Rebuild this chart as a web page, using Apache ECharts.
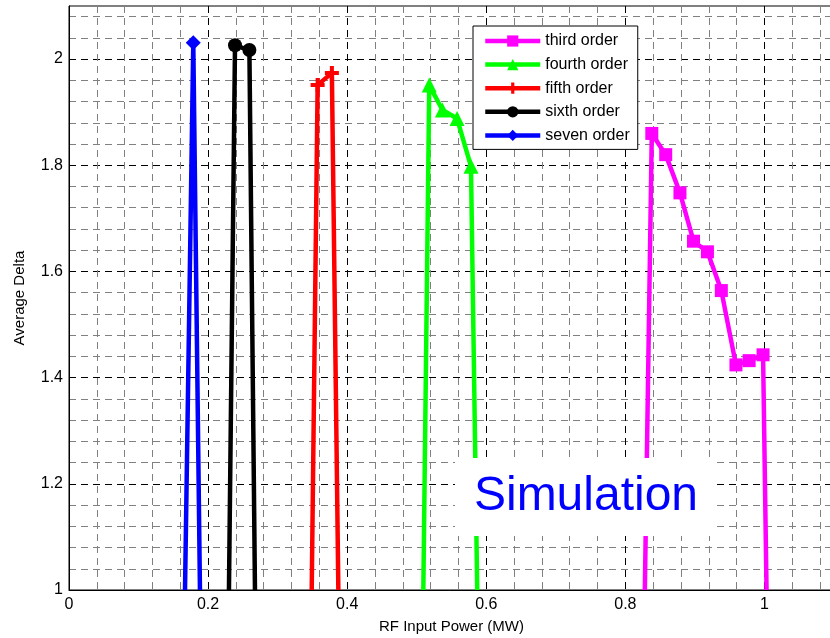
<!DOCTYPE html>
<html>
<head>
<meta charset="utf-8">
<script src="https://cdn.jsdelivr.net/npm/echarts@6/dist/echarts.min.js"></script>
<style>
  html, body { margin: 0; padding: 0; background: #fff; }
  #chart { width: 830px; height: 638px; }
</style>
</head>
<body>
<div id="chart"></div>
<script>
// Average delta versus RF input power for each multipactor order
const seriesNames = ['third order', 'fourth order', 'fifth order', 'sixth order', 'seven order'];

const thirdX = [0.828, 0.838, 0.858, 0.8785, 0.898, 0.918, 0.938, 0.959, 0.978, 0.998, 1.003];
const thirdY = [1.0, 1.860, 1.820, 1.748, 1.657, 1.637, 1.564, 1.424, 1.432, 1.443, 1.0];

const fourthX = [0.5095, 0.518, 0.537, 0.558, 0.578, 0.587];
const fourthY = [1.0, 1.951, 1.904, 1.888, 1.798, 1.0];

const fifthX = [0.349, 0.3575, 0.378, 0.3873];
const fifthY = [1.0, 1.951, 1.974, 1.0];

const sixthX = [0.230, 0.2387, 0.2594, 0.2674];
const sixthY = [1.0, 2.026, 2.017, 1.0];

const sevenX = [0.1668, 0.1787, 0.1883];
const sevenY = [1.0, 2.031, 1.0];

const xTickLabels = ['0', '0.2', '0.4', '0.6', '0.8', '1'];
const yTickLabels = ['1', '1.2', '1.4', '1.6', '1.8', '2'];

const X_MIN = 0, X_MAX = 1.1, Y_MIN = 1, Y_MAX = 2.1, GRID_STEP = 0.04;
const FONT = 'Liberation Sans, Arial, sans-serif';
const PLUS = 'path://M5,0H9V5H14V9H9V14H5V9H0V5H5Z';

// points sitting on the lower axis limit carry no marker
function pairs(xs, ys, sym) {
  return xs.map((x, i) => ({
    value: [x, ys[i]],
    symbol: ys[i] <= Y_MIN ? 'none' : sym
  }));
}

function tickFormatter(labels) {
  return v => {
    const hit = labels.find(t => Math.abs(parseFloat(t) - v) < 1e-6);
    return hit === undefined ? '' : hit;
  };
}

// every fifth grid line (the labelled ones) is black, the rest grey
const gridColors = ['#000000', '#808080', '#808080', '#808080', '#808080'];

function lineSeries(name, xs, ys, color, sym, size) {
  return {
    name: name,
    type: 'line',
    data: pairs(xs, ys, sym),
    symbol: sym,
    symbolSize: size,
    clip: true,
    lineStyle: { color: color, width: 4.5 },
    itemStyle: { color: color, borderWidth: 0 },
    emphasis: { disabled: true },
    animation: false
  };
}

const chart = echarts.init(document.getElementById('chart'));
chart.setOption({
  backgroundColor: '#ffffff',
  animation: false,
  textStyle: { fontFamily: FONT },
  grid: {
    left: 69, right: -4, top: 6, bottom: 48,
    outerBoundsMode: 'none',
    containLabel: false,
    show: true, borderColor: '#000', borderWidth: 1, backgroundColor: '#fff'
  },
  legend: {
    orient: 'vertical',
    left: 473, top: 26,
    padding: [7, 8, 6, 10],
    itemWidth: 55, itemHeight: 14, itemGap: 7.6,
    backgroundColor: '#fff',
    borderColor: '#000', borderWidth: 1,
    lineStyle: { width: 4.5 },
    textStyle: { fontSize: 16, color: '#000', fontFamily: FONT },
    data: seriesNames
  },
  xAxis: {
    type: 'value',
    min: X_MIN, max: X_MAX, interval: GRID_STEP,
    name: 'RF Input Power (MW)',
    nameLocation: 'middle', nameGap: 29,
    nameTextStyle: { fontSize: 15, color: '#000', fontFamily: FONT },
    axisLine: { show: true, lineStyle: { color: '#000', width: 1 } },
    axisTick: { show: false },
    axisLabel: { fontSize: 16, color: '#000', margin: 7, fontFamily: FONT,
                 formatter: tickFormatter(xTickLabels) },
    splitLine: { show: true, lineStyle: { color: gridColors, type: [7, 5], width: 1 } }
  },
  yAxis: {
    type: 'value',
    min: Y_MIN, max: Y_MAX, interval: GRID_STEP,
    name: 'Average Delta',
    nameLocation: 'middle', nameGap: 42,
    nameTextStyle: { fontSize: 15, color: '#000', fontFamily: FONT },
    axisLine: { show: true, lineStyle: { color: '#000', width: 1 } },
    axisTick: { show: false },
    axisLabel: { fontSize: 16, color: '#000', margin: 6, fontFamily: FONT,
                 formatter: tickFormatter(yTickLabels) },
    splitLine: { show: true, lineStyle: { color: gridColors, type: [7, 5], width: 1 } }
  },
  series: [
    lineSeries(seriesNames[0], thirdX, thirdY, '#ff00ff', 'rect', 13),
    lineSeries(seriesNames[1], fourthX, fourthY, '#00ff00', 'triangle', 15),
    lineSeries(seriesNames[2], fifthX, fifthY, '#ff0000', PLUS, 14),
    lineSeries(seriesNames[3], sixthX, sixthY, '#000000', 'circle', 14),
    lineSeries(seriesNames[4], sevenX, sevenY, '#0000ff', 'diamond', 15)
  ],
  graphic: [
    { type: 'rect', z: 100, zlevel: 0,
      shape: { x: 455, y: 458, width: 262, height: 78 },
      style: { fill: '#ffffff' } },
    { type: 'text', z: 101, zlevel: 0, x: 586, y: 497,
      style: { text: 'Simulation', fill: '#0000ff', font: '48px ' + FONT,
               align: 'center', verticalAlign: 'middle' } }
  ]
});
</script>
</body>
</html>
